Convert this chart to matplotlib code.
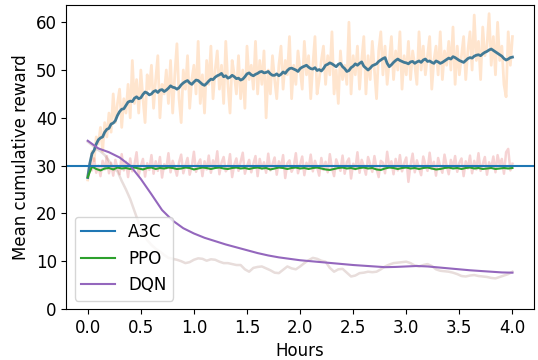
import numpy as np
import matplotlib
matplotlib.use("Agg")
import matplotlib.pyplot as plt
from matplotlib.lines import Line2D

plt.rcParams['font.family'] = ['DejaVu Sans']
plt.rcParams['font.size'] = 12

# ---------------- data ----------------
series_names = ["A3C", "PPO", "DQN"]

a3c_raw = [
    27, 29.5, 33, 31, 36, 34.5, 38, 33, 39, 36, 41,
    37, 45, 39, 43, 46, 38, 44, 41, 47, 40,
    52, 43, 48, 41, 50, 44, 39, 49, 46, 51,
    42, 48, 53, 40, 47, 45, 50, 43, 52, 41,
    49, 55.5, 44, 39, 50, 46, 53, 42, 48, 51,
    45, 56, 43, 49, 41, 52, 47, 55, 44, 50,
    54, 46, 51, 43, 56, 47, 41, 52, 49, 45,
    53, 44, 50, 42, 55, 48, 51, 46, 56, 45,
    52, 47, 54, 40, 50, 45, 53, 48, 44, 51,
    55, 46, 52, 49, 57, 44, 51, 47, 54, 50,
    46, 56, 49, 53, 44, 51, 57, 45, 48, 52,
    55, 47, 53, 49, 58, 45, 50, 43, 54, 48,
    51, 47, 60, 45, 53, 49, 55, 46, 52, 57,
    45, 53, 48, 56, 50, 44, 54, 58, 49, 55,
    47, 52, 57, 48, 54, 50, 58, 46, 53, 49,
    56, 48, 54, 51, 47, 58, 50, 55, 49, 53,
    57, 46, 52, 55, 49, 58, 48, 54, 51, 56,
    50, 59, 47, 55, 49, 53, 57, 48, 54, 58,
    50, 61.5, 52, 56, 48, 59, 53, 55, 61.8, 51,
    57, 49, 60, 52, 55, 47, 44.4, 58, 51, 57,
]

a3c_smooth = [
    27.5, 30.5, 32.5, 33.2, 34.5, 35.4, 35.8, 36.0, 37.0, 37.6,
    37.8, 38.7, 38.9, 39.4, 40.5, 41.3, 41.8, 41.9, 42.6, 43.3,
    43.5, 43.4, 44.1, 44.4, 44.0, 44.2, 44.9, 45.4, 45.2, 44.8,
    45.0, 45.5, 45.7, 45.3, 45.8, 45.9, 45.5, 45.8, 46.2, 46.7,
    46.4, 46.3, 46.0, 46.3, 46.9, 47.3, 47.6, 47.8, 47.3, 47.0,
    47.5, 47.9, 47.8, 47.4, 47.0, 46.8, 47.2, 47.7, 48.1, 48.0,
    48.5, 48.8, 49.0, 49.3, 48.6, 48.8, 48.3, 48.5, 48.9, 48.6,
    48.2, 48.3, 47.9, 48.1, 48.6, 49.2, 49.4, 49.0, 48.8, 49.1,
    49.3, 49.6, 49.7, 49.4, 49.5, 49.7, 49.2, 48.9, 48.9, 49.2,
    48.8, 49.1, 49.6, 49.3, 49.9, 50.3, 50.4, 50.2, 50.0, 49.7,
    50.3, 50.6, 50.8, 51.0, 50.6, 50.3, 50.2, 50.5, 49.9, 50.1,
    49.8, 50.3, 51.0, 51.2, 51.5, 51.3, 51.0, 50.7, 51.2, 51.4,
    50.7, 50.3, 49.7, 49.9, 50.5, 50.8, 51.3, 51.0, 51.4, 51.7,
    50.8, 50.4, 50.0, 50.4, 50.9, 51.1, 51.3, 51.8, 52.1, 52.4,
    52.6, 51.4, 50.7, 51.1, 51.6, 52.0, 52.3, 52.0, 51.8, 51.6,
    51.5, 51.3, 51.7, 51.8, 51.4, 51.7, 51.9, 51.6, 52.1, 52.3,
    51.8, 51.9, 51.6, 51.4, 51.9, 51.7, 51.4, 51.6, 51.9, 52.2,
    52.5, 52.3, 52.8, 52.6, 52.3, 52.0, 51.8, 51.6, 52.0, 52.4,
    52.6, 52.5, 52.9, 53.1, 53.2, 53.0, 53.4, 53.7, 53.9, 54.2,
    54.4, 54.1, 53.8, 53.5, 53.2, 52.9, 52.4, 52.1, 52.3, 52.6,
    52.7,
]

ppo_raw = [
    28, 30.5, 29, 31.5, 28.5, 30, 27.8, 31, 29.2, 32,
    28.4, 30.6, 27.9, 31.2, 29.5, 28.2, 32.4, 29, 30.8, 27.6,
    31.5, 28.8, 30.2, 32.8, 28, 29.9, 31.4, 27.7, 30.5, 29.1,
    32.2, 28.3, 30.9, 28.9, 31.8, 27.5, 30.3, 29.4, 32.6, 28.6,
    31, 29.6, 27.9, 30.7, 32.3, 28.4, 30.1, 31.6, 28.1, 29.8,
    32.9, 28.7, 30.4, 31.3, 27.8, 30.9, 29.2, 32.1, 28.5, 31.1,
    29.7, 33.0, 28.2, 30.6, 31.8, 28.8, 29.5, 32.4, 27.6, 30.2,
    31.5, 28.9, 30.8, 32.7, 28.3, 29.9, 31.2, 28.6, 30.4, 32.0,
    27.8, 31.4, 29.3, 30.7, 28.5, 32.5, 29.0, 30.3, 31.7, 28.1,
    30.9, 29.6, 32.2, 27.4, 30.5, 31.1, 28.7, 29.8, 32.6, 28.4,
    30.2, 31.9, 28.0, 30.6, 29.4, 32.3, 28.8, 31.0, 29.7, 27.9,
    31.6, 29.1, 30.8, 28.6, 32.4, 29.5, 27.8, 31.3, 30.0, 28.9,
    32.1, 28.3, 30.7, 31.5, 27.3, 30.4, 29.2, 32.8, 28.5, 31.2,
    29.9, 28.1, 31.8, 30.3, 28.7, 32.0, 29.4, 27.6, 31.0, 30.6,
    28.4, 32.9, 29.7, 30.9, 28.2, 31.4, 29.0, 32.2, 28.8, 30.5,
    31.7, 26.6, 30.1, 32.5, 28.6, 31.1, 29.5, 28.0, 31.9, 30.2,
    28.9, 32.7, 29.3, 30.8, 27.9, 31.6, 29.8, 28.5, 32.3, 30.0,
    28.2, 31.2, 29.6, 32.0, 28.7, 30.6, 31.5, 27.8, 30.9, 29.4,
    32.1, 28.4, 31.0, 29.2, 32.6, 28.9, 30.3, 31.8, 28.1, 30.7,
    29.5, 31.9, 28.6, 32.2, 30.1, 31.4, 28.3, 32.8, 33.5, 29.0,
    30.4,
]

ppo_smooth = [
    27.6, 29.8, 29.3, 29.0, 29.4, 29.5, 29.2, 29.6, 29.4, 29.5,
    29.3, 29.6, 29.4, 29.2, 29.5, 29.6, 29.3, 29.5, 29.4, 29.6,
    29.5, 29.3, 29.4, 29.6, 29.5, 29.2, 29.4, 29.6, 29.5, 29.3,
    29.5, 29.6, 29.4, 29.3, 29.5, 29.6, 29.4, 29.5, 29.3, 29.5,
    29.6, 29.4, 29.5, 29.2, 29.4, 29.6, 29.5, 29.3, 29.5, 29.6,
    29.4, 29.5, 29.3, 29.5, 29.6, 29.4, 29.2, 29.1, 29.3, 29.5,
    29.6, 29.4, 29.5, 29.3, 29.5, 29.6, 29.4, 29.5, 29.2, 29.1,
    29.4, 29.6, 29.5, 29.3, 29.5, 29.6, 29.4, 29.5, 29.3, 29.5,
    29.6, 29.4, 29.2, 29.3, 29.5, 29.6, 29.4, 29.5, 29.3, 29.5,
    29.6, 29.4, 29.5, 29.3, 29.4, 29.5, 29.3, 29.4, 29.5, 29.4,
    29.5,
]

dqn_raw = [
    35.0, 34.3, 33.5, 33.0, 32.2, 31.0, 29.5, 28.8, 26.8, 25.0,
    23.0, 20.5, 18.0, 15.8, 14.4, 13.4, 12.6, 12.0, 11.3, 10.7,
    10.5, 10.3, 10.0, 9.6, 9.8, 10.3, 10.6, 10.5, 10.1, 10.4,
    10.3, 9.9, 9.6, 9.6, 9.4, 9.2, 9.2, 8.3, 7.8, 8.6,
    8.8, 8.9, 8.5, 8.1, 7.6, 7.5, 8.2, 8.9, 8.5, 8.3,
    8.9, 9.6, 10.2, 10.7, 10.5, 10.1, 9.9, 8.6, 7.8, 8.3,
    8.4, 7.6, 6.8, 7.0, 7.5, 7.6, 7.8, 7.7, 7.8, 8.3,
    8.9, 9.3, 9.6, 9.7, 9.8, 9.9, 9.6, 9.1, 8.9, 9.2,
    9.4, 9.0, 8.3, 8.0, 7.9, 7.8, 7.6, 7.3, 6.9, 6.8,
    7.0, 7.1, 6.9, 6.8, 6.7, 6.5, 6.4, 6.7, 7.0, 7.3,
    7.8,
]

dqn_smooth = [
    35.2, 33.6, 32.8, 31.7, 30.0, 27.2, 24.0, 20.7, 18.5, 16.9,
    15.8, 14.9, 14.2, 13.5, 12.9, 12.3, 11.7, 11.2, 10.8, 10.5,
    10.2, 10.0, 9.8, 9.6, 9.4, 9.2, 9.05, 8.9, 8.75, 8.8,
    8.9, 9.0, 8.9, 8.7, 8.5, 8.3, 8.1, 7.95, 7.8, 7.65,
    7.6,
]

threshold = 30
x_ticks = [0.0, 0.5, 1.0, 1.5, 2.0, 2.5, 3.0, 3.5, 4.0]
y_ticks = [0, 10, 20, 30, 40, 50, 60]

def hours(values):
    return np.linspace(0, 4, len(values))

# ---------------- plot ----------------
fig = plt.figure(figsize=(5.38, 3.6), dpi=100)
ax = fig.add_axes([0.1236, 0.1417, 0.8684, 0.8443])

ax.plot(hours(a3c_raw), a3c_raw, color='tab:orange', alpha=0.2, lw=2.0)
ax.plot(hours(ppo_raw), ppo_raw, color='tab:red', alpha=0.2, lw=1.8)
ax.plot(hours(dqn_raw), dqn_raw, color='tab:brown', alpha=0.2, lw=1.8)

ax.plot(hours(a3c_smooth), a3c_smooth, color='#427a96', lw=2.0)
ax.plot(hours(ppo_smooth), ppo_smooth, color='tab:green', lw=1.5)
ax.plot(hours(dqn_smooth), dqn_smooth, color='tab:purple', lw=1.5)

ax.axhline(threshold, color='tab:blue', lw=1.5)

ax.set_xlim(-0.2, 4.2)
ax.set_ylim(0, 63.6)
ax.set_xticks(x_ticks)
ax.set_xticklabels([f"{t:.1f}" for t in x_ticks])
ax.set_yticks(y_ticks)
ax.set_xlabel("Hours")
ax.set_ylabel("Mean cumulative reward")

handles = [Line2D([], [], color=c, lw=1.5) for c in ['tab:blue', 'tab:green', 'tab:purple']]
ax.legend(handles, series_names, loc='lower left')

fig.savefig("out.png", dpi=100)
